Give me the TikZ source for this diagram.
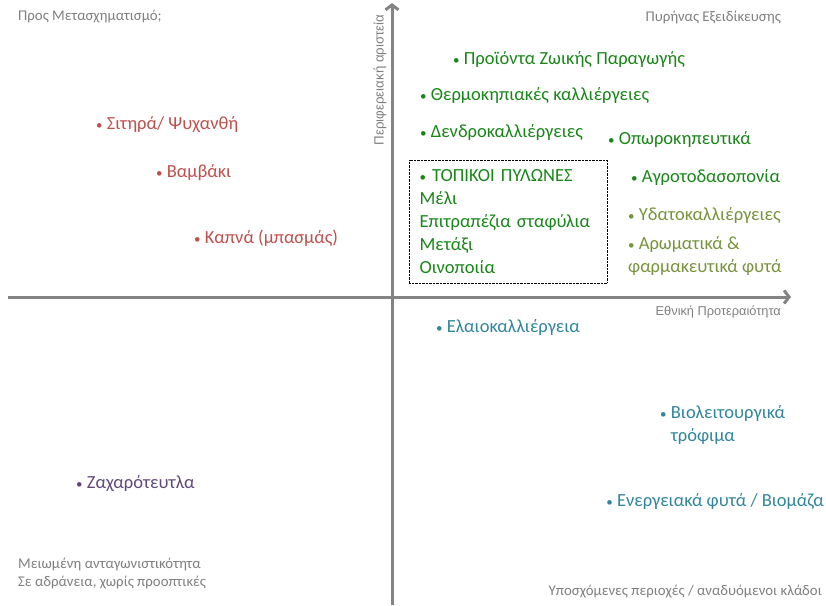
\documentclass[tikz,border=0pt]{standalone}
\usepackage{fontspec}
\setmainfont{Carlito}
\newfontfamily\axisfont{Liberation Sans}
\usetikzlibrary{arrows.meta}
\definecolor{axisgray}{HTML}{848484}
\definecolor{notegray}{HTML}{7F7F7F}
\definecolor{cropred}{HTML}{C0504D}
\definecolor{cropgreen}{RGB}{24,134,24}
\definecolor{cropolive}{HTML}{77933C}
\definecolor{cropteal}{HTML}{31859C}
\definecolor{croppurple}{HTML}{60497A}
% A small bullet in front of each sector.
\newcommand{\itembullet}{{\fontsize{13}{13}\selectfont•}\ }

\begin{document}
\begin{tikzpicture}
		[
			x=1pt, y=-1pt,
			% Make a style for the grey axes.
			axis/.style={draw=axisgray, line width=3pt, -{Straight Barb[length=5pt,width=13pt]}},
			% And one for the grey corner notes.
			note/.style={text=notegray, font=\fontsize{14.8}{18}\selectfont, inner sep=0pt, align=left},
			% And one for a sector in the chart.
			item/.style={text=#1, font=\fontsize{18.5}{23}\selectfont, inner sep=0pt, anchor=west, align=left, yshift=-1pt}
		]
			\useasboundingbox (0,0) rectangle (826,605);

			% Draw the two axes.
			\coordinate (xstart) at (8,297);
			\coordinate (xend) at (791,297);
			\coordinate (ystart) at (392,605);
			\coordinate (yend) at (392,3);
			\draw[axis] (xstart) -- (xend);
			\draw[axis] (ystart) -- (yend);
			\node[note, font=\axisfont\fontsize{13.3}{15}\selectfont, rotate=90] (ylabel) at (380,80) {Περιφερειακή αριστεία};
			\node[note, font=\axisfont\fontsize{12.8}{15}\selectfont, anchor=east] (xlabel) at (781,312) {Εθνική Προτεραιότητα};

			% Corner notes.
			\node[note, anchor=west] (topleft) at (18,17) {Προς Μετασχηματισμό;};
			\node[note, anchor=east] (topright) at (781,17) {Πυρήνας Εξειδίκευσης};
			\node[note, anchor=west] (bottomleft) at (18,574) {Μειωμένη ανταγωνιστικότητα\\Σε αδράνεια, χωρίς προοπτικές};
			\node[note, anchor=east] (bottomright) at (822,592) {Υποσχόμενες περιοχές / αναδυόμενοι κλάδοι};

			% Upper right quadrant.
			\node[item=cropgreen] (zoiki) at (453,58) {\itembullet Προϊόντα Ζωικής Παραγωγής};
			\node[item=cropgreen] (thermo) at (420,94) {\itembullet Θερμοκηπιακές καλλιέργειες};
			\node[item=cropgreen] (dendro) at (420,131) {\itembullet Δενδροκαλλιέργειες};
			\node[item=cropgreen] (oporo) at (608,138) {\itembullet Οπωροκηπευτικά};
			\node[item=cropgreen] (agroto) at (631,176) {\itembullet Αγροτοδασοπονία};
			\node[item=cropolive] (ydato) at (628,214) {\itembullet Υδατοκαλλιέργειες};
			\node[item=cropolive] (aroma) at (628,255) {\itembullet Αρωματικά \&\\φαρμακευτικά φυτά};
			\node[item=cropgreen, anchor=center, yshift=1pt, draw=black, densely dotted, inner xsep=10.5pt, text width=177pt, minimum height=123pt] (pylones) at (508,221.5)
				{\itembullet ΤΟΠΙΚΟΙ ΠΥΛΩΝΕΣ\\Μέλι\\Επιτραπέζια σταφύλια\\Μετάξι\\Οινοποιία};

			% Upper left quadrant.
			\node[item=cropred] (sitira) at (96,124) {\itembullet Σιτηρά/ Ψυχανθή};
			\node[item=cropred] (vamvaki) at (156,172) {\itembullet Βαμβάκι};
			\node[item=cropred] (kapna) at (194,237) {\itembullet Καπνά (μπασμάς)};

			% Lower half.
			\node[item=cropteal] (elaio) at (436,326) {\itembullet Ελαιοκαλλιέργεια};
			\node[item=cropteal] (violeit) at (660,423.5) {\itembullet Βιολειτουργικά\\\phantom{\itembullet}τρόφιμα};
			\node[item=cropteal, anchor=east] (energ) at (824,500) {\itembullet Ενεργειακά φυτά / Βιομάζα};
			\node[item=croppurple] (zachar) at (76,483) {\itembullet Ζαχαρότευτλα};
		\end{tikzpicture}
\end{document}
